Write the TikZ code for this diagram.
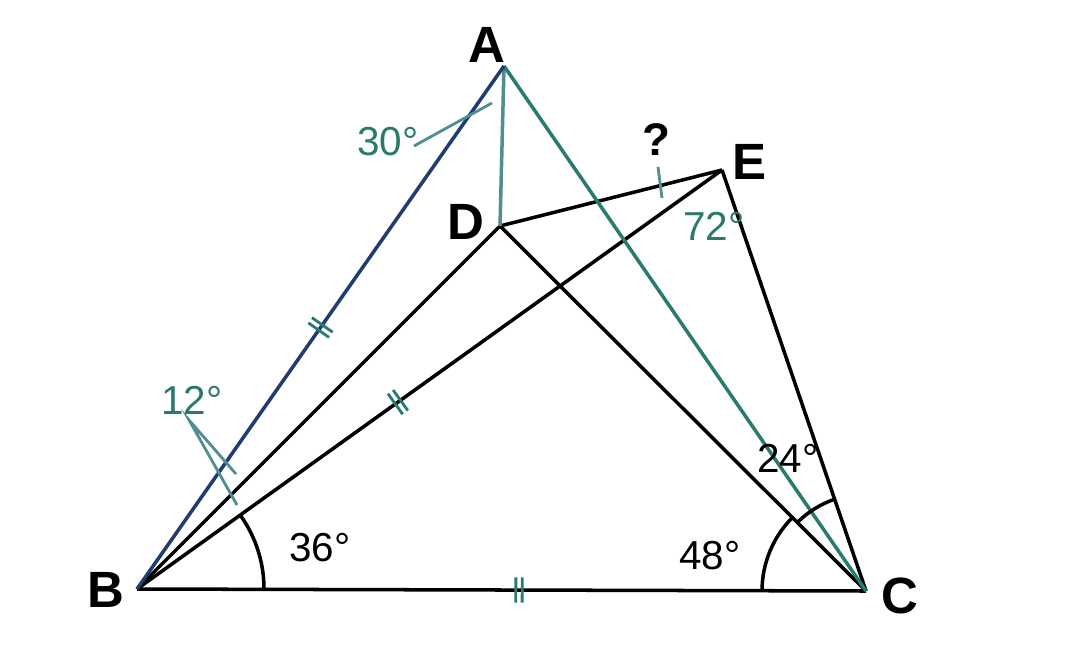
\documentclass[tikz,border=0pt]{standalone}
\usepackage{fontspec}
\setmainfont{Liberation Sans}
\usetikzlibrary{decorations.markings}
\definecolor{navy}{HTML}{1F3D6E}
\definecolor{tealline}{HTML}{2A7A6E}
\definecolor{tealgray}{HTML}{4F8F8F}
\definecolor{tealtxt}{HTML}{2A7A6A}
\tikzset{
  blk/.style={line width=1pt, black},
  vlabel/.style={font=\bfseries\fontsize{14.5}{14.5}\selectfont, text=black, inner sep=0pt},
  alabel/.style={font=\fontsize{11.5}{11.5}\selectfont, inner sep=0pt},
  tlabel/.style={alabel, text=tealtxt},
  mk/.style={line width=0.8pt, tealgray},
  dbltick/.style={postaction={decorate}, decoration={markings,
     mark=at position #1 with {\draw[line width=0.8pt, tealline] (-0.9pt,-3.6pt)--(-0.9pt,3.6pt) (0.9pt,-3.6pt)--(0.9pt,3.6pt);}}}
}
\begin{document}
\begin{tikzpicture}[x=0.01cm,y=-0.01cm]
\useasboundingbox (0,0) rectangle (1080,655);
\coordinate (A) at (504,66);
\coordinate (B) at (137,589);
\coordinate (C) at (866,591);
\coordinate (D) at (500,226);
\coordinate (E) at (722,170);
% lines
\draw[blk, dbltick=0.446] (B) -- (E);
\draw[blk] (B) -- (D);
\draw[blk, dbltick=0.524] (B) -- (C);
\draw[blk] (D) -- (E);
\draw[blk] (D) -- (C);
\draw[blk] (E) -- (C);
\draw[line width=1pt, tealgray] (A) -- (D);
\draw[line width=1pt, tealline] (A) -- (C);
\draw[line width=1pt, navy, dbltick=0.5] (B) -- (A);
% angle arcs
\draw[blk] (B) ++(-35.6:127) arc (-35.6:0:127);
\draw[blk] (C) ++(180:104) arc (180:225:104) ;
\draw[blk] (C) ++(225:97) arc (225:251:97);
% angle mark lines
\coordinate (m30a) at (414,146);
\coordinate (m30b) at (492,103);
\draw[mk] (m30a) -- (m30b);
\coordinate (m12) at (189,420);
\coordinate (m12a) at (237,505);
\coordinate (m12b) at (236,474);
\draw[mk] (m12a) -- (m12) -- (m12b);
\coordinate (mqa) at (658,167);
\coordinate (mqb) at (662,198);
\draw[mk] (mqa) -- (mqb);
% vertex labels
\node[vlabel] (lA) at (487,45) {A};
\node[vlabel] (lB) at (106,590) {B};
\node[vlabel] (lC) at (900,596) {C};
\node[vlabel] (lD) at (466,222) {D};
\node[vlabel] (lE) at (749,162) {E};
% angle labels
\node[tlabel] (l30) at (388,142) {30°};
\node[tlabel] (l12) at (192,400) {12°};
\node[tlabel] (l72) at (714,226) {72°};
\node[alabel] (lq) at (656,140) {\bfseries\fontsize{13}{13}\selectfont ?};
\node[alabel] (l36) at (320,548) {36°};
\node[alabel] (l48) at (710,556) {48°};
\node[alabel] (l24) at (788,458) {24°};
\end{tikzpicture}
\end{document}
